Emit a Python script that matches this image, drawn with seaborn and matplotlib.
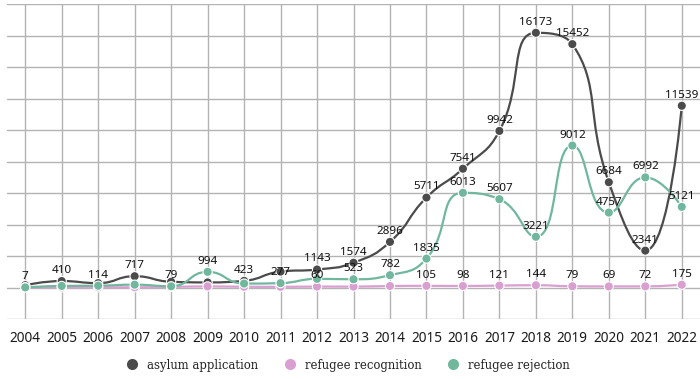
import matplotlib
matplotlib.use("Agg")

import matplotlib.pyplot as plt
import numpy as np
import pandas as pd
import seaborn as sns
from matplotlib.lines import Line2D
from matplotlib.patches import PathPatch
from matplotlib.path import Path

# ── Data ────────────────────────────────────────────────────────────

years = list(range(2004, 2023))
asylum = [148, 410, 278, 717, 364, 324, 423, 1011, 1143, 1574, 2896,
          5711, 7541, 9942, 16173, 15452, 6684, 2341, 11539]
recognition = [18, 9, 11, 13, 36, 70, 47, 42, 60, 57, 94,
               105, 98, 121, 144, 79, 69, 72, 175]
rejection = [7, 100, 114, 180, 79, 994, 250, 277, 550, 523, 782,
             1835, 6013, 5607, 3221, 9012, 4757, 6992, 5121]

series_names = ["asylum application", "refugee recognition", "refugee rejection"]
colors = ["#4b4b4b", "#d99fd0", "#70b79d"]

# years whose value label is visible in the original (the rest were hidden by overlap)
asylum_labelled = [2005, 2007, 2010, 2012, 2013, 2014, 2015, 2016, 2017,
                   2018, 2019, 2020, 2021, 2022]
recognition_labelled = [2012, 2015, 2016, 2017, 2018, 2019, 2020, 2021, 2022]
rejection_labelled = [2004, 2006, 2008, 2009, 2011, 2013, 2014, 2015, 2016,
                      2017, 2018, 2019, 2020, 2021, 2022]


def smooth_path(ax, xs, ys, smooth=0.5):
    """Bezier path through the points, control points picked in pixel space."""
    pts = ax.transData.transform(np.column_stack([xs, ys]))
    n = len(pts)
    verts = [pts[0]]
    codes = [Path.MOVETO]
    cp0 = pts[0].copy()
    for i in range(1, n):
        x, y = pts[i]
        if i + 1 >= n:
            cp1 = (x, y)
            nxt = (x, y)
        else:
            px, py = pts[i - 1]
            nx, ny = pts[i + 1]
            vx, vy = nx - px, ny - py
            l0 = np.hypot(x - px, y - py)
            l1 = np.hypot(nx - x, ny - y)
            r = l1 / (l0 + l1)
            ncx = x + vx * smooth * r
            ncy = y + vy * smooth * r
            ncx = max(min(ncx, max(nx, x)), min(nx, x))
            ncy = max(min(ncy, max(ny, y)), min(ny, y))
            vx, vy = ncx - x, ncy - y
            c1x = x - vx * l0 / l1
            c1y = y - vy * l0 / l1
            c1x = max(min(c1x, max(px, x)), min(px, x))
            c1y = max(min(c1y, max(py, y)), min(py, y))
            vx, vy = x - c1x, y - c1y
            nxt = (x + vx * l1 / l0, y + vy * l1 / l0)
            cp1 = (c1x, c1y)
        verts += [cp0, cp1, (x, y)]
        codes += [Path.CURVE4] * 3
        cp0 = nxt
    verts = ax.transData.inverted().transform(np.array(verts, dtype=float))
    return Path(verts, codes)


sns.set_theme(style="white")
plt.rcParams["font.family"] = ["Noto Sans", "DejaVu Sans"]

df = pd.concat(
    [
        pd.DataFrame({"year": years, "value": vals, "series": name})
        for name, vals in zip(series_names, [asylum, recognition, rejection])
    ],
    ignore_index=True,
)

fig = plt.figure(figsize=(7.0, 3.79), dpi=100)
ax = fig.add_axes([7 / 700, 1 - 319 / 379, 693 / 700, 315 / 379])
ax.set_xlim(2003.5, 2022.5)
ax.set_ylim(-2000, 18000)

for name, col in zip(series_names, colors):
    sub = df[df["series"] == name]
    path = smooth_path(ax, sub["year"].to_numpy(float), sub["value"].to_numpy(float))
    ax.add_patch(PathPatch(path, facecolor="none", edgecolor=col, lw=1.6, zorder=2))

sns.scatterplot(
    data=df, x="year", y="value", hue="series", palette=colors,
    hue_order=series_names, s=44, edgecolor="white", linewidth=0.8,
    legend=False, zorder=3, ax=ax,
)

labelled = dict(zip(series_names, [asylum_labelled, recognition_labelled, rejection_labelled]))
for _, row in df.iterrows():
    if row["year"] in labelled[row["series"]]:
        ax.annotate(
            f"{row['value']}", (row["year"], row["value"]),
            xytext=(0, 7.6), textcoords="offset points",
            ha="center", va="center", fontsize=8.4, fontweight="medium",
            color="#111111", zorder=4,
        )

ax.set_xticks(years)
ax.set_xticklabels([str(y) for y in years], fontsize=9.8, color="#1a1a1a")
ax.set_yticks(range(-2000, 18001, 2000))
ax.set_yticklabels([])
ax.tick_params(axis="both", length=0)
ax.tick_params(axis="x", pad=9)
ax.grid(True, color="#b3b3b3", lw=1.0)
ax.set_axisbelow(True)
for s in ax.spines.values():
    s.set_visible(False)
ax.set_xlabel("")
ax.set_ylabel("")

handles = [
    Line2D([], [], marker="o", linestyle="none", markersize=8, color=c, markeredgewidth=0)
    for c in colors
]
fig.legend(
    handles, series_names, loc="center", bbox_to_anchor=(0.497, 1 - 365 / 379),
    ncol=3, frameon=False, handletextpad=0.8, columnspacing=2.2,
    handlelength=1.0, prop={"family": "DejaVu Serif", "size": 8.4},
    labelcolor="#222222",
)

fig.savefig("out.png", dpi=100)
